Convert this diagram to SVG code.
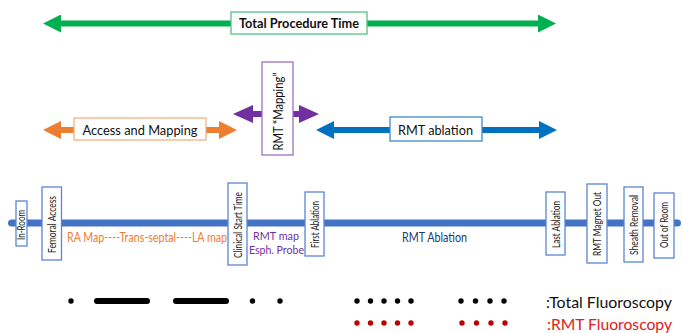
<svg xmlns="http://www.w3.org/2000/svg" width="683" height="333" viewBox="0 0 683 333">
<style>
text{font-family:Lato,"Liberation Sans",Arial,sans-serif;}
.lbl{font-size:14px;fill:#111;}
.nb{fill:#fff;stroke:#5B86D2;stroke-width:1.3;}
.nt{font-size:10.5px;fill:#222;}
.sh{fill:none;stroke-width:6;}
.fd{fill:#000;}
.rd{fill:#C00000;}
</style>
<defs>
<marker id="hG" markerUnits="userSpaceOnUse" markerWidth="18" markerHeight="18" viewBox="0 0 18 18" refX="0" refY="9" orient="auto-start-reverse"><path d="M0,0L18,9L0,18z" fill="#00B050"/></marker>
<marker id="hO" markerUnits="userSpaceOnUse" markerWidth="18" markerHeight="18" viewBox="0 0 18 18" refX="0" refY="9" orient="auto-start-reverse"><path d="M0,0L18,9L0,18z" fill="#ED7D31"/></marker>
<marker id="hP" markerUnits="userSpaceOnUse" markerWidth="20" markerHeight="18" viewBox="0 0 20 18" refX="0" refY="9" orient="auto-start-reverse"><path d="M0,0L20,9L0,18z" fill="#7030A0"/></marker>
<marker id="hB" markerUnits="userSpaceOnUse" markerWidth="18" markerHeight="18" viewBox="0 0 18 18" refX="0" refY="9" orient="auto-start-reverse"><path d="M0,0L18,9L0,18z" fill="#0070C0"/></marker>
</defs>
<rect width="683" height="333" fill="#fff"/>

<g id="connectors">
<line class="sh" x1="61" y1="23.5" x2="538" y2="23.5" stroke="#00B050" marker-start="url(#hG)" marker-end="url(#hG)"/>
<line class="sh" x1="61" y1="130" x2="219" y2="130" stroke="#ED7D31" marker-start="url(#hO)" marker-end="url(#hO)"/>
<line class="sh" x1="253" y1="114" x2="299" y2="114" stroke="#7030A0" marker-start="url(#hP)" marker-end="url(#hP)"/>
<line class="sh" x1="334" y1="130" x2="539" y2="130" stroke="#0070C0" marker-start="url(#hB)" marker-end="url(#hB)"/>
<line x1="11.5" y1="223" x2="677.5" y2="223" stroke="#4472C4" stroke-width="7" stroke-linecap="round"/>
</g>

<g id="total-procedure-time">
<rect x="231" y="12" width="136" height="22" fill="#fff" stroke="#52C486" stroke-width="1.3"/>
<text x="299" y="28" text-anchor="middle" font-size="13.5" font-weight="bold" fill="#111" textLength="120" lengthAdjust="spacingAndGlyphs">Total Procedure Time</text>
</g>

<g id="access-and-mapping">
<rect x="74" y="118" width="132" height="22" fill="#fff" stroke="#F4B183" stroke-width="1.3"/>
<text class="lbl" x="140" y="134.5" text-anchor="middle" textLength="115" lengthAdjust="spacingAndGlyphs">Access and Mapping</text>
</g>

<g id="rmt-mapping">
<rect x="262" y="62" width="31" height="93" fill="#fff" stroke="#9A72C2" stroke-width="1.3"/>
<text class="lbl" transform="translate(282.5,111.5) rotate(-90)" text-anchor="middle" textLength="78" lengthAdjust="spacingAndGlyphs">RMT “Mapping”</text>
</g>

<g id="rmt-ablation">
<rect x="390" y="117" width="92" height="24" fill="#fff" stroke="#3C8BCB" stroke-width="1.3"/>
<text class="lbl" x="435.5" y="134.5" text-anchor="middle" textLength="75" lengthAdjust="spacingAndGlyphs">RMT ablation</text>
</g>

<g id="in-room">
<rect class="nb" x="16" y="201" width="11" height="45"/>
<text class="nt" transform="translate(24.8,225) rotate(-90)" text-anchor="middle" font-size="9.5" textLength="30" lengthAdjust="spacingAndGlyphs">In-Room</text>
</g>
<g id="femoral-access">
<rect class="nb" x="42" y="187" width="19.5" height="73"/>
<text class="nt" transform="translate(55.5,224.5) rotate(-90)" text-anchor="middle" textLength="57" lengthAdjust="spacingAndGlyphs">Femoral Access</text>
</g>
<g id="clinical-start-time">
<rect class="nb" x="228" y="183" width="19" height="82"/>
<text class="nt" transform="translate(241.5,225) rotate(-90)" text-anchor="middle" textLength="66" lengthAdjust="spacingAndGlyphs">Clinical Start Time</text>
</g>
<g id="first-ablation">
<rect class="nb" x="305" y="192" width="19" height="64"/>
<text class="nt" transform="translate(318.5,224.5) rotate(-90)" text-anchor="middle" textLength="47" lengthAdjust="spacingAndGlyphs">First Ablation</text>
</g>
<g id="last-ablation">
<rect class="nb" x="546" y="192" width="19" height="63"/>
<text class="nt" transform="translate(559.5,224.5) rotate(-90)" text-anchor="middle" textLength="47" lengthAdjust="spacingAndGlyphs">Last Ablation</text>
</g>
<g id="rmt-magnet-out">
<rect class="nb" x="587" y="184" width="20" height="79"/>
<text class="nt" transform="translate(601,224) rotate(-90)" text-anchor="middle" textLength="64" lengthAdjust="spacingAndGlyphs">RMT Magnet Out</text>
</g>
<g id="sheath-removal">
<rect class="nb" x="624" y="187" width="19" height="75"/>
<text class="nt" transform="translate(637.5,225) rotate(-90)" text-anchor="middle" textLength="60" lengthAdjust="spacingAndGlyphs">Sheath Removal</text>
</g>
<g id="out-of-room">
<rect class="nb" x="654" y="193" width="20" height="65"/>
<text class="nt" transform="translate(668,225) rotate(-90)" text-anchor="middle" textLength="46" lengthAdjust="spacingAndGlyphs">Out of Room</text>
</g>

<g id="phase-labels" font-size="12.5">
<text x="67" y="241.5" fill="#ED7D31" textLength="160" lengthAdjust="spacingAndGlyphs">RA Map----Trans-septal----LA map</text>
<text x="276" y="240" text-anchor="middle" fill="#7030A0" font-size="11.5" textLength="46" lengthAdjust="spacingAndGlyphs">RMT map</text>
<text x="276.5" y="253.5" text-anchor="middle" fill="#7030A0" font-size="11.5" textLength="55" lengthAdjust="spacingAndGlyphs">Esph. Probe</text>
<text x="434.5" y="241.5" text-anchor="middle" fill="#203A70" textLength="65" lengthAdjust="spacingAndGlyphs">RMT Ablation</text>
</g>

<g id="total-fluoroscopy">
<circle class="fd" cx="71" cy="301" r="2.7"/>
<line x1="97" y1="301" x2="147" y2="301" stroke="#000" stroke-width="6" stroke-linecap="round"/>
<line x1="176" y1="301" x2="226" y2="301" stroke="#000" stroke-width="6" stroke-linecap="round"/>
<circle class="fd" cx="252.5" cy="301" r="2.7"/>
<circle class="fd" cx="280" cy="301" r="2.7"/>
<circle class="fd" cx="357" cy="301" r="2.7"/>
<circle class="fd" cx="370.5" cy="301" r="2.7"/>
<circle class="fd" cx="384" cy="301" r="2.7"/>
<circle class="fd" cx="397.5" cy="301" r="2.7"/>
<circle class="fd" cx="411" cy="301" r="2.7"/>
<circle class="fd" cx="461" cy="301" r="2.7"/>
<circle class="fd" cx="475.5" cy="301" r="2.7"/>
<circle class="fd" cx="490" cy="301" r="2.7"/>
<circle class="fd" cx="504" cy="301" r="2.7"/>
<text x="546" y="307.5" font-size="16" fill="#111" textLength="126" lengthAdjust="spacingAndGlyphs">:Total Fluoroscopy</text>
</g>

<g id="rmt-fluoroscopy">
<circle class="rd" cx="357" cy="323" r="2.7"/>
<circle class="rd" cx="370.5" cy="323" r="2.7"/>
<circle class="rd" cx="384" cy="323" r="2.7"/>
<circle class="rd" cx="397.5" cy="323" r="2.7"/>
<circle class="rd" cx="411" cy="323" r="2.7"/>
<circle class="rd" cx="462" cy="323" r="2.7"/>
<circle class="rd" cx="476.5" cy="323" r="2.7"/>
<circle class="rd" cx="491" cy="323" r="2.7"/>
<circle class="rd" cx="505" cy="323" r="2.7"/>
<text x="547" y="329.5" font-size="16" fill="#E0201B" textLength="125" lengthAdjust="spacingAndGlyphs">:RMT Fluoroscopy</text>
</g>
</svg>
